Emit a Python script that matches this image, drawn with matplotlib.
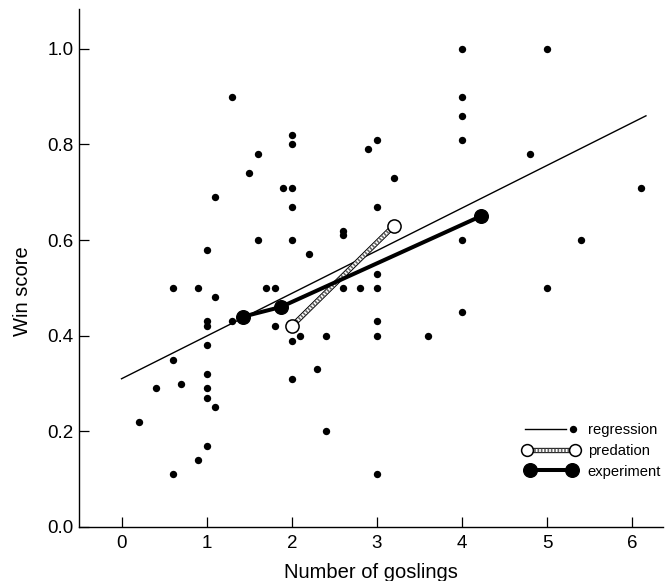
import matplotlib
matplotlib.use('Agg')
import matplotlib.pyplot as plt
from matplotlib.lines import Line2D
from matplotlib.legend_handler import HandlerBase

plt.rcParams['font.family'] = ['Liberation Sans', 'DejaVu Sans']

# scatter of individual families: number of goslings vs win score
goslings = [1.3, 1.6, 1.5, 1.1, 1.6, 4.0, 4.0, 4.0, 4.0, 2.0,
            2.0, 1.9, 2.0, 2.0, 3.0, 2.9, 3.2, 3.0, 2.6, 2.6,
            2.0, 4.0, 5.0, 4.8, 6.1, 5.4, 1.0, 0.6, 0.9, 1.1,
            1.7, 1.8, 1.0, 1.0, 1.3, 1.8, 1.0, 0.6, 0.4, 0.7,
            1.0, 1.0, 1.0, 1.1, 0.2, 1.0, 0.9, 0.6, 2.2, 3.0,
            2.6, 2.8, 3.0, 3.0, 2.0, 2.1, 2.4, 3.0, 3.6, 4.0,
            2.3, 2.0, 2.4, 3.0, 5.0]
win_score = [0.90, 0.78, 0.74, 0.69, 0.60, 1.00, 0.90, 0.86, 0.81, 0.82,
             0.80, 0.71, 0.71, 0.67, 0.81, 0.79, 0.73, 0.67, 0.62, 0.61,
             0.60, 0.60, 1.00, 0.78, 0.71, 0.60, 0.58, 0.50, 0.50, 0.48,
             0.50, 0.50, 0.43, 0.42, 0.43, 0.42, 0.38, 0.35, 0.29, 0.30,
             0.32, 0.29, 0.27, 0.25, 0.22, 0.17, 0.14, 0.11, 0.57, 0.53,
             0.50, 0.50, 0.50, 0.43, 0.39, 0.40, 0.40, 0.40, 0.40, 0.45,
             0.33, 0.31, 0.20, 0.11, 0.50]

# regression line end points
reg_x = [0.0, 6.16]
reg_y = [0.31, 0.86]

# predation and experiment means
pred_x = [2.0, 3.2]
pred_y = [0.42, 0.63]
exp_x = [1.43, 1.87, 4.22]
exp_y = [0.44, 0.46, 0.65]

fig = plt.figure(figsize=(6.69, 5.81), dpi=100)
ax = fig.add_axes([0.118, 0.093, 0.873, 0.892])

ax.plot(reg_x, reg_y, color='black', lw=1.0, zorder=2)
ax.plot(goslings, win_score, 'o', color='black', ms=5.3, mew=0, zorder=3)

# hatched-looking predation bar: black outline, white core, grey stipple
ax.plot(pred_x, pred_y, color='black', lw=3.8, solid_capstyle='butt', zorder=4)
ax.plot(pred_x, pred_y, color='white', lw=2.4, solid_capstyle='butt', zorder=4)
ax.plot(pred_x, pred_y, color='#666666', lw=2.4, dashes=(0.5, 0.5), zorder=4)
ax.plot(pred_x, pred_y, 'o', ms=9.5, mfc='white', mec='black', mew=1.1, zorder=5)

ax.plot(exp_x, exp_y, color='black', lw=2.9, zorder=5)
ax.plot(exp_x, exp_y, 'o', color='black', ms=9.8, zorder=6)

ax.set_xlim(-0.5, 6.36)
ax.set_ylim(0, 1.084)
ax.set_xticks([0, 1, 2, 3, 4, 5, 6])
ax.set_yticks([0.0, 0.2, 0.4, 0.6, 0.8, 1.0])
ax.set_yticklabels(['0.0', '0.2', '0.4', '0.6', '0.8', '1.0'])
ax.spines['top'].set_visible(False)
ax.spines['right'].set_visible(False)
for s in ('left', 'bottom'):
    ax.spines[s].set_linewidth(1.0)
ax.tick_params(direction='in', length=7, width=0.9, labelsize=13.5)
ax.tick_params(axis='x', pad=6)
ax.tick_params(axis='y', pad=4)

ax.set_xlabel('Number of goslings', fontsize=14.5, labelpad=8)
ax.set_ylabel('Win score', fontsize=14.5)
ax.yaxis.set_label_coords(-0.08, 0.455)


class DumbbellHandler(HandlerBase):
    def __init__(self, kind):
        super().__init__()
        self.kind = kind

    def create_artists(self, legend, orig_handle, xdescent, ydescent,
                       width, height, fontsize, trans):
        y = height / 2 - ydescent
        x0 = -xdescent
        x1 = x0 + width
        arts = []
        if self.kind == 'reg':
            arts.append(Line2D([x0 + 4, x0 + 0.74 * width], [y, y], color='black', lw=1.0))
            arts.append(Line2D([x1 - 6], [y], marker='o', color='black', ms=5.3, mew=0))
        elif self.kind == 'pred':
            r = 5
            for c, lw, kw in (('black', 3.8, {}), ('white', 2.4, {}),
                              ('#666666', 2.4, {'dashes': (0.5, 0.5)})):
                arts.append(Line2D([x0 + r, x1 - r], [y, y], color=c, lw=lw,
                                   solid_capstyle='butt', **kw))
            arts.append(Line2D([x0 + r, x1 - r], [y, y], ls='none', marker='o',
                               ms=8.5, mfc='white', mec='black', mew=1.1))
        else:
            r = 7
            arts.append(Line2D([x0 + r, x1 - r], [y, y], color='black', lw=2.9))
            arts.append(Line2D([x0 + r, x1 - r], [y, y], ls='none', marker='o',
                               color='black', ms=9.8))
        for a in arts:
            a.set_transform(trans)
        return arts


h_reg = Line2D([], [])
h_pred = Line2D([], [])
h_exp = Line2D([], [])
ax.legend([h_reg, h_pred, h_exp], ['regression', 'predation', 'experiment'],
          handler_map={h_reg: DumbbellHandler('reg'),
                       h_pred: DumbbellHandler('pred'),
                       h_exp: DumbbellHandler('exp')},
          loc='center left', bbox_to_anchor=(0.755, 0.147), frameon=False,
          fontsize=10.6, handlelength=4.2, handletextpad=0.4,
          labelspacing=0.46, borderpad=0, borderaxespad=0)

fig.savefig('out.png', dpi=100)
